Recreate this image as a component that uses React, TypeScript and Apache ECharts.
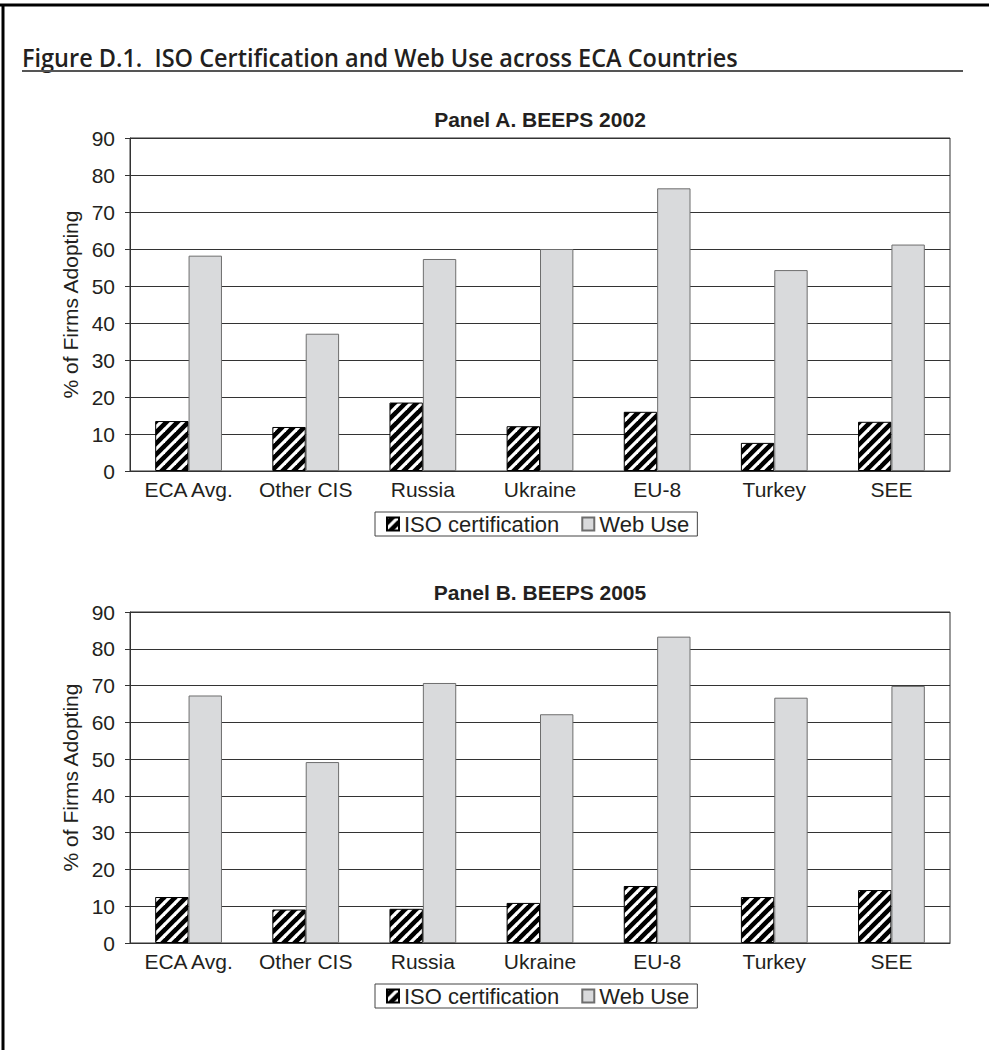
import React, { useEffect, useRef } from "react";
import * as echarts from "echarts";

// Categories and values for both survey waves
const countries = ["ECA Avg.", "Other CIS", "Russia", "Ukraine", "EU-8", "Turkey", "SEE"];
const isoCert2002 = [13.5, 11.9, 18.5, 12.1, 16.0, 7.6, 13.3];
const webUse2002 = [58.2, 37.1, 57.3, 60.0, 76.4, 54.3, 61.2];
const isoCert2005 = [12.5, 9.1, 9.3, 10.9, 15.5, 12.5, 14.4];
const webUse2005 = [67.3, 49.2, 70.7, 62.2, 83.3, 66.7, 69.9];
const yTicks = { min: 0, max: 90, interval: 10 };

const FONT = "'Liberation Sans', Arial, Helvetica, sans-serif";
const FIG_TITLE = "Figure D.1.  ISO Certification and Web Use across ECA Countries";
const FIG_FONT = "'Open Sans', 'DejaVu Sans', sans-serif";
const FIG_SIZE = 26;
const FIG_WIDTH = 716;

// Black tile with white diagonal "/" stripes for the ISO bars
function makeHatch(): HTMLCanvasElement {
  const s = 11;
  const c = document.createElement("canvas");
  c.width = s;
  c.height = s;
  const ctx = c.getContext("2d")!;
  ctx.fillStyle = "#000";
  ctx.fillRect(0, 0, s, s);
  ctx.strokeStyle = "#fff";
  ctx.lineWidth = 3.2;
  for (let k = -1; k <= 1; k++) {
    ctx.beginPath();
    ctx.moveTo(k * s - 1, s + 1);
    ctx.lineTo(k * s + s + 1, -1);
    ctx.stroke();
  }
  return c;
}

// Horizontal squeeze that gives the figure heading a condensed look
function titleScale(): number {
  const ctx = document.createElement("canvas").getContext("2d")!;
  ctx.font = `600 ${FIG_SIZE}px ${FIG_FONT}`;
  const w = ctx.measureText(FIG_TITLE).width;
  return w > 0 ? FIG_WIDTH / w : 1;
}

export default function App() {
  const ref = useRef<HTMLDivElement>(null);

  useEffect(() => {
    document.body.style.margin = "0";
    const chart = echarts.init(ref.current!, undefined, { renderer: "svg" });
    const hatch = { image: makeHatch(), repeat: "repeat" as const };

    const grids = [
      { left: 130, right: 39, top: 138, height: 333 },
      { left: 130, right: 39, top: 612, height: 331 },
    ];

    const yAxisFor = (gridIndex: number) => ({
      type: "value" as const,
      gridIndex,
      ...yTicks,
      name: "% of Firms Adopting",
      nameLocation: "middle" as const,
      nameGap: 48,
      nameTextStyle: { fontFamily: FONT, fontSize: 21, color: "#231f20" },
      axisLine: { show: true, lineStyle: { color: "#333", width: 1 } },
      axisTick: { show: true, length: 5, lineStyle: { color: "#333" } },
      axisLabel: { fontFamily: FONT, fontSize: 21, color: "#231f20", margin: 15 },
      splitLine: { show: true, lineStyle: { color: "#333", width: 1 } },
    });

    const xAxisFor = (gridIndex: number) => ({
      type: "category" as const,
      gridIndex,
      data: countries,
      axisLine: { show: true, lineStyle: { color: "#333", width: 1 } },
      axisTick: { show: false },
      axisLabel: { interval: 0, fontFamily: FONT, fontSize: 21, color: "#231f20", margin: 8 },
    });

    const barPair = (idx: number, iso: number[], web: number[]) => [
      {
        name: "ISO certification",
        type: "bar" as const,
        xAxisIndex: idx,
        yAxisIndex: idx,
        data: iso,
        barGap: "0%",
        barCategoryGap: "43%",
        itemStyle: { color: hatch, borderColor: "#000", borderWidth: 1 },
      },
      {
        name: "Web Use",
        type: "bar" as const,
        xAxisIndex: idx,
        yAxisIndex: idx,
        data: web,
        barGap: "0%",
        barCategoryGap: "43%",
        itemStyle: { color: "#d9dadc", borderColor: "#6e6e6e", borderWidth: 1 },
      },
    ];

    const legendFor = (top: number) => ({
      top,
      left: 375,
      data: ["ISO certification", "Web Use"],
      icon: "rect",
      itemWidth: 12,
      itemHeight: 13,
      itemGap: 22,
      padding: [1, 8, 1, 11],
      borderColor: "#444",
      borderWidth: 1,
      textStyle: { fontFamily: FONT, fontSize: 22, color: "#231f20" },
    });

    const panelTitle = (text: string, top: number) => ({
      text,
      left: 535,
      top,
      textAlign: "center" as const,
      textStyle: { fontFamily: FONT, fontSize: 21, fontWeight: "bold" as const, color: "#231f20" },
    });

    chart.setOption({
      animation: false,
      backgroundColor: "#fff",
      title: [panelTitle("Panel A. BEEPS 2002", 104), panelTitle("Panel B. BEEPS 2005", 577)],
      grid: grids.map((g) => ({ ...g, show: true, borderColor: "#333", borderWidth: 1 })),
      xAxis: [xAxisFor(0), xAxisFor(1)],
      yAxis: [yAxisFor(0), yAxisFor(1)],
      legend: [legendFor(512), legendFor(984)],
      series: [...barPair(0, isoCert2002, webUse2002), ...barPair(1, isoCert2005, webUse2005)],
      graphic: [
        // page frame: top and left rules
        { type: "line", shape: { x1: 0, y1: 5, x2: 989, y2: 5 }, style: { stroke: "#000", lineWidth: 3 } },
        { type: "line", shape: { x1: 3, y1: 4, x2: 3, y2: 1050 }, style: { stroke: "#000", lineWidth: 3 } },
        {
          type: "text",
          x: 22,
          y: 57,
          scaleX: titleScale(),
          style: {
            text: FIG_TITLE,
            fontFamily: FIG_FONT,
            fontSize: FIG_SIZE,
            fontWeight: 600,
            fill: "#231f20",
            verticalAlign: "middle",
          },
        },
        { type: "line", shape: { x1: 22, y1: 71, x2: 963, y2: 71 }, style: { stroke: "#555", lineWidth: 2 } },
      ],
    });

    return () => chart.dispose();
  }, []);

  return (
    <div
      ref={ref}
      style={{ position: "absolute", left: 0, top: 0, width: 989, height: 1050 }}
    />
  );
}
